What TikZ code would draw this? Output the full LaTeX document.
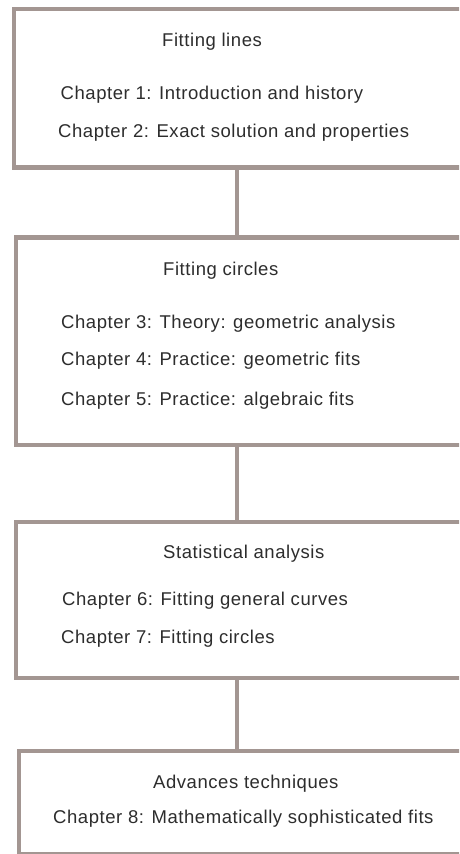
\documentclass[tikz,border=0pt]{standalone}
\usepackage{fontspec}
\setmainfont{Liberation Sans}[LetterSpace=3]
\definecolor{framegray}{RGB}{163,150,146}
\definecolor{inkgray}{RGB}{45,45,45}
\tikzset{
  partbox/.style={draw=framegray,line width=4.5pt,inner sep=0pt,minimum width=480pt,anchor=north west},
  parttext/.style={anchor=base west,inner sep=0pt,text=inkgray,font=\fontsize{18.5}{20}\selectfont},
  partlink/.style={draw=framegray,line width=4pt}
}
\begin{document}
\begin{tikzpicture}[x=1pt,y=-1pt]
        \useasboundingbox[fill=white] (0,0) rectangle (459,854);
        \clip (0,0) rectangle (459,854);
        % the four parts of the book
        \node[partbox,minimum height=158.5pt] (lines) at (11.5,6.5) {};
        \node[partbox,minimum height=207.5pt] (circles) at (13.5,235) {};
        \node[partbox,minimum height=156pt] (stats) at (13.5,519.5) {};
        \node[partbox,minimum height=103pt] (advanced) at (16.5,748.5) {};
        \coordinate (spine) at (236.5,0);
        \draw[partlink] (lines.south -| spine) -- (circles.north -| spine);
        \draw[partlink] (circles.south -| spine) -- (stats.north -| spine);
        \draw[partlink] (stats.south -| spine) -- (advanced.north -| spine);
        % titles and chapters
        \node[parttext] (linestitle) at (162,46) {Fitting lines};
        \node[parttext] (ch1) at (60.5,99) {Chapter 1: Introduction and history};
        \node[parttext] (ch2) at (58,137) {Chapter 2: Exact solution and properties};
        \node[parttext] (circlestitle) at (163,275) {Fitting circles};
        \node[parttext] (ch3) at (61,328) {Chapter 3: Theory: geometric analysis};
        \node[parttext] (ch4) at (61,365) {Chapter 4: Practice: geometric fits};
        \node[parttext] (ch5) at (61,405) {Chapter 5: Practice: algebraic fits};
        \node[parttext] (statstitle) at (163,558) {Statistical analysis};
        \node[parttext] (ch6) at (62,605) {Chapter 6: Fitting general curves};
        \node[parttext] (ch7) at (61,643) {Chapter 7: Fitting circles};
        \node[parttext] (advancedtitle) at (153,788) {Advances techniques};
        \node[parttext] (ch8) at (53,823) {Chapter 8: Mathematically sophisticated fits};
    \end{tikzpicture}
\end{document}
